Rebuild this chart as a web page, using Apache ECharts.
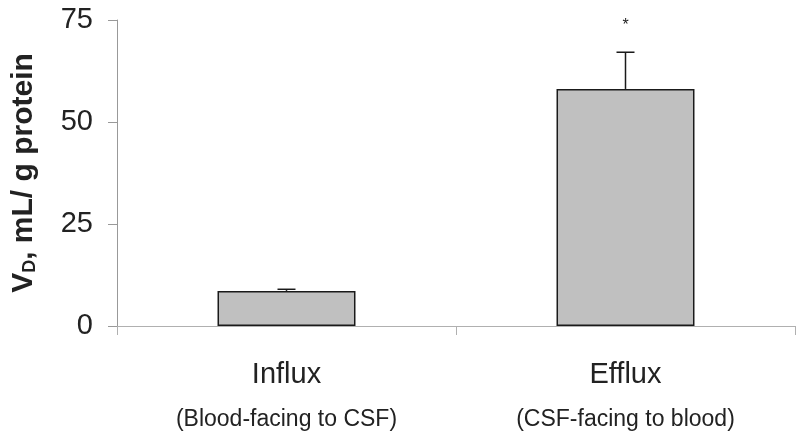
<!DOCTYPE html>
<html><head><meta charset="utf-8">
<script src="https://cdn.jsdelivr.net/npm/echarts@6/dist/echarts.min.js"></script>
<style>html,body{margin:0;padding:0;background:#fff}#c{width:800px;height:441px}</style>
</head><body><div id="c"></div>
<script>
var categories = ['Influx', 'Efflux'];
var subLabels = ['(Blood-facing to CSF)', '(CSF-facing to blood)'];
var means = [8.6, 58.1];
var errors = [0.4, 9.0];
var significance = ['', '*'];
var yTicks = [0, 25, 50, 75];

var chart = echarts.init(document.getElementById('c'));
var FONT = '"Liberation Sans", Arial, sans-serif';
chart.setOption({
  animation: false,
  backgroundColor: '#fff',
  grid: { left: 117, right: 5, top: 20, bottom: 115 },
  xAxis: {
    type: 'category',
    data: categories,
    axisLine: { lineStyle: { color: '#b0b0b0', width: 1 } },
    axisTick: { show: true, length: 9, lineStyle: { color: '#b0b0b0' } },
    axisLabel: {
      margin: 29,
      formatter: function (v, i) { return '{a|' + v + '}\n{b|' + subLabels[i] + '}'; },
      rich: {
        a: { fontFamily: FONT, fontSize: 29, color: '#222', lineHeight: 40 },
        b: { fontFamily: FONT, fontSize: 23, color: '#222', lineHeight: 50 }
      }
    }
  },
  yAxis: {
    type: 'value',
    min: yTicks[0], max: yTicks[yTicks.length - 1], interval: 25,
    splitLine: { show: false },
    axisLine: { show: true, lineStyle: { color: '#999', width: 1 } },
    axisTick: { show: true, length: 9, lineStyle: { color: '#999' } },
    axisLabel: { margin: 24, fontFamily: FONT, fontSize: 29, color: '#222' },
    name: '{v|V}{d|D}{v|, mL/ g protein}',
    nameLocation: 'middle',
    nameGap: 78,
    nameRotate: 90,
    nameTextStyle: {
      rich: {
        v: { fontFamily: FONT, fontSize: 30, fontWeight: 'bold', color: '#222', verticalAlign: 'bottom', lineHeight: 34 },
        d: { fontFamily: FONT, fontSize: 18, fontWeight: 'bold', color: '#222', verticalAlign: 'bottom', lineHeight: 28 }
      }
    }
  },
  series: [
    {
      type: 'bar',
      data: means,
      barWidth: '40.7%',
      itemStyle: { color: '#c0c0c0', borderColor: '#1a1a1a', borderWidth: 1.5 },
      z: 2
    },
    {
      type: 'custom',
      z: 3,
      data: means.map(function (m, i) { return [i, m, m + errors[i]]; }),
      renderItem: function (params, api) {
        var x = api.value(0);
        var p0 = api.coord([x, api.value(1)]);
        var p1 = api.coord([x, api.value(2)]);
        var hw = 9;
        var children = [
          { type: 'line', shape: { x1: p0[0], y1: p0[1], x2: p1[0], y2: p1[1] }, style: { stroke: '#1a1a1a', lineWidth: 1.5 } },
          { type: 'line', shape: { x1: p1[0] - hw, y1: p1[1], x2: p1[0] + hw, y2: p1[1] }, style: { stroke: '#1a1a1a', lineWidth: 1.5 } }
        ];
        var s = significance[params.dataIndex];
        if (s) {
          children.push({ type: 'text', style: { text: s, x: p1[0], y: p1[1] - 27, align: 'center', verticalAlign: 'middle', fontFamily: FONT, fontSize: 16, fill: '#222' } });
        }
        return { type: 'group', children: children };
      }
    }
  ]
});
</script></body></html>
